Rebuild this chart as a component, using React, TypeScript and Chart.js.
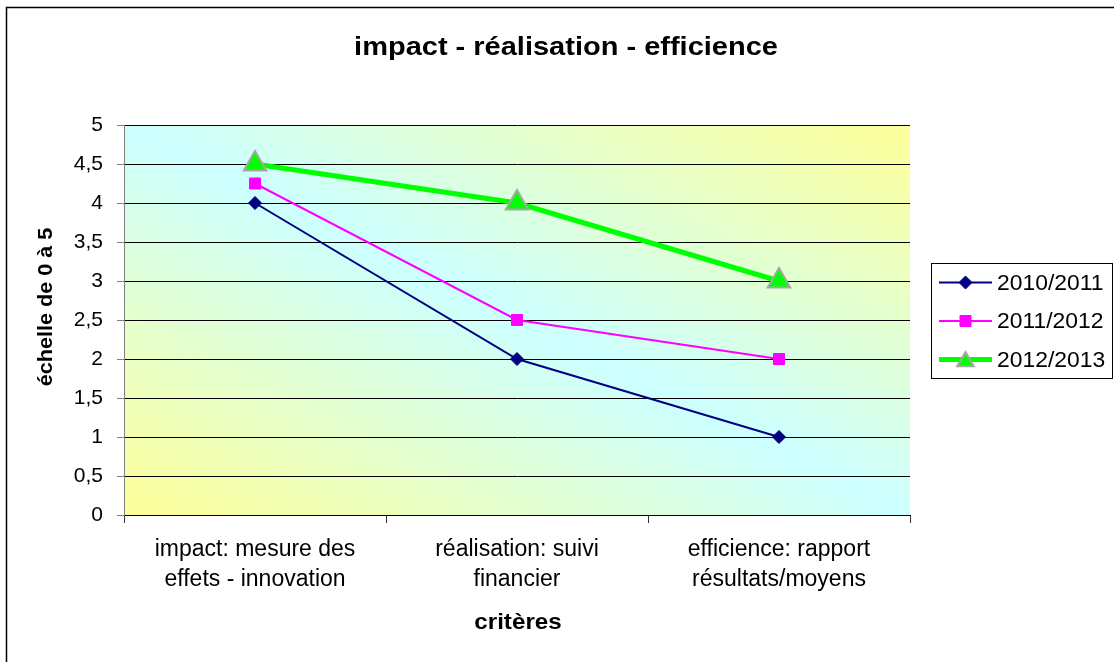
import React, { useEffect, useRef } from 'react';
import { Chart, registerables } from 'chart.js';

Chart.register(...registerables);

// ---- data ----
const categories: string[][] = [
  ['impact: mesure des', 'effets - innovation'],
  ['réalisation: suivi', 'financier'],
  ['efficience: rapport', 'résultats/moyens'],
];
const seriesNames = ['2010/2011', '2011/2012', '2012/2013'];
const values2010 = [4, 2, 1];
const values2011 = [4.25, 2.5, 2];
const values2012 = [4.5, 4, 3];
const yMin = 0;
const yMax = 5;
const yStep = 0.5;
const chartTitle = 'impact - réalisation - efficience';
const yAxisTitle = 'échelle de 0 à 5';
const xAxisTitle = 'critères';

const FONT = '"Liberation Sans", Arial, Helvetica, sans-serif';
const W = 1114;
const H = 662;

function stretchedText(
  ctx: CanvasRenderingContext2D,
  text: string,
  x: number,
  y: number,
  font: string,
  sx: number,
  rotate = 0
) {
  ctx.save();
  ctx.translate(x, y);
  if (rotate) ctx.rotate(rotate);
  ctx.scale(sx, 1);
  ctx.font = font;
  ctx.fillStyle = '#000';
  ctx.textAlign = 'center';
  ctx.textBaseline = 'middle';
  ctx.fillText(text, 0, 0);
  ctx.restore();
}

function drawMarker(ctx: CanvasRenderingContext2D, style: string, x: number, y: number, r: number, fill: string, stroke: string, bw: number) {
  ctx.save();
  ctx.beginPath();
  if (style === 'rectRot') {
    ctx.moveTo(x, y - r);
    ctx.lineTo(x + r, y);
    ctx.lineTo(x, y + r);
    ctx.lineTo(x - r, y);
    ctx.closePath();
  } else if (style === 'rect') {
    const s = Math.SQRT1_2 * r;
    ctx.rect(x - s, y - s, 2 * s, 2 * s);
  } else {
    ctx.moveTo(x, y - r);
    ctx.lineTo(x + r * Math.sin(Math.PI / 3), y + r * 0.5);
    ctx.lineTo(x - r * Math.sin(Math.PI / 3), y + r * 0.5);
    ctx.closePath();
  }
  ctx.fillStyle = fill;
  ctx.fill();
  ctx.lineWidth = bw;
  ctx.strokeStyle = stroke;
  ctx.stroke();
  ctx.restore();
}

const decorPlugin = {
  id: 'decor',
  beforeDraw(chart: any) {
    const ctx: CanvasRenderingContext2D = chart.ctx;
    const a = chart.chartArea;
    ctx.save();
    ctx.fillStyle = '#fff';
    ctx.fillRect(0, 0, chart.width, chart.height);
    // outer frame (right/bottom edges are off the picture)
    ctx.strokeStyle = '#000';
    ctx.lineWidth = 1.5;
    ctx.strokeRect(6.5, 7.5, chart.width + 20, chart.height + 20);
    // diagonal gradient: yellow corners BL / TR, cyan along TL-BR diagonal
    const cx = (a.left + a.right) / 2;
    const cy = (a.top + a.bottom) / 2;
    const w = a.right - a.left;
    const h = a.bottom - a.top;
    const len = Math.hypot(h, w);
    const ux = h / len;
    const uy = -w / len;
    const k = Math.abs((-w / 2) * ux + (h / 2) * uy);
    const g = ctx.createLinearGradient(cx - k * ux, cy - k * uy, cx + k * ux, cy + k * uy);
    g.addColorStop(0, '#FFFF99');
    g.addColorStop(0.5, '#CCFFFF');
    g.addColorStop(1, '#FFFF99');
    ctx.fillStyle = g;
    ctx.fillRect(a.left, a.top, w, h);
    ctx.restore();
  },
  afterDraw(chart: any) {
    const ctx: CanvasRenderingContext2D = chart.ctx;
    const a = chart.chartArea;
    const cx = (a.left + a.right) / 2;
    const cy = (a.top + a.bottom) / 2;
    // title
    stretchedText(ctx, chartTitle, 566, 48, `bold 25px ${FONT}`, 1.16);
    // axis titles
    stretchedText(ctx, xAxisTitle, cx + 1, 623, `bold 22px ${FONT}`, 1.1);
    stretchedText(ctx, yAxisTitle, 46, cy - 13, `bold 21px ${FONT}`, 1.03, -Math.PI / 2);

    // legend
    const boxL = a.right + 21;
    const boxW = 181;
    const boxH = 115;
    const boxT = cy - boxH / 2;
    ctx.save();
    ctx.fillStyle = '#fff';
    ctx.fillRect(boxL, boxT, boxW, boxH);
    ctx.strokeStyle = '#000';
    ctx.lineWidth = 1;
    ctx.strokeRect(Math.round(boxL) + 0.5, Math.round(boxT) + 0.5, boxW, boxH);
    const rowGap = 38.5;
    chart.data.datasets.forEach((ds: any, i: number) => {
      const y = boxT + 20 + i * rowGap;
      const x1 = boxL + 8;
      const x2 = boxL + 61;
      ctx.beginPath();
      ctx.strokeStyle = ds.borderColor;
      ctx.lineWidth = ds.borderWidth;
      ctx.moveTo(x1, y);
      ctx.lineTo(x2, y);
      ctx.stroke();
      const mr = ds.pointStyle === 'triangle' ? 9.5 : ds.pointRadius;
      drawMarker(ctx, ds.pointStyle, (x1 + x2) / 2, y + (ds.pointStyle === 'triangle' ? 2 : 0), mr, ds.pointBackgroundColor, ds.pointBorderColor, ds.pointBorderWidth);
      ctx.save();
      ctx.translate(boxL + 66, y + 1);
      ctx.scale(1.04, 1);
      ctx.font = `22px ${FONT}`;
      ctx.fillStyle = '#000';
      ctx.textAlign = 'left';
      ctx.textBaseline = 'middle';
      ctx.fillText(ds.label, 0, 0);
      ctx.restore();
    });
    ctx.restore();
  },
};

export default function App() {
  const ref = useRef<HTMLCanvasElement | null>(null);
  useEffect(() => {
    if (!ref.current) return;
    const chart = new Chart(ref.current, {
      type: 'line',
      data: {
        labels: categories,
        datasets: [
          {
            label: seriesNames[0],
            data: values2010,
            borderColor: '#000080',
            borderWidth: 2,
            pointStyle: 'rectRot',
            pointRadius: 6.5,
            pointBackgroundColor: '#000080',
            pointBorderColor: '#000080',
            pointBorderWidth: 1,
            fill: false,
            tension: 0,
          },
          {
            label: seriesNames[1],
            data: values2011,
            borderColor: '#FF00FF',
            borderWidth: 2,
            pointStyle: 'rect',
            pointRadius: 7.8,
            pointBackgroundColor: '#FF00FF',
            pointBorderColor: '#FF00FF',
            pointBorderWidth: 1,
            fill: false,
            tension: 0,
          },
          {
            label: seriesNames[2],
            data: values2012,
            borderColor: '#00FF00',
            borderWidth: 5,
            pointStyle: 'triangle',
            pointRadius: 13,
            pointBackgroundColor: '#00FF00',
            pointBorderColor: '#A6A6A6',
            pointBorderWidth: 2,
            fill: false,
            tension: 0,
          },
        ] as any,
      },
      options: {
        responsive: false,
        animation: false,
        devicePixelRatio: 1,
        layout: { padding: { left: 0, top: 125, right: W - 910, bottom: 0 } },
        plugins: {
          legend: { display: false },
          title: { display: false },
          tooltip: { enabled: false },
        },
        scales: {
          x: {
            type: 'category',
            offset: true,
            grid: {
              offset: true,
              drawOnChartArea: false,
              drawTicks: true,
              tickLength: 8,
              tickColor: '#333',
              lineWidth: 1,
            },
            border: { display: true, color: '#000', width: 1 },
            ticks: {
              color: '#000',
              font: { family: FONT, size: 23, lineHeight: 1.3 },
              padding: 12,
              maxRotation: 0,
              minRotation: 0,
              autoSkip: false,
            },
            afterFit: (s: any) => {
              s.height = H - 515;
            },
          },
          y: {
            min: yMin,
            max: yMax,
            grid: {
              color: '#000',
              lineWidth: 1,
              drawTicks: true,
              tickLength: 7,
              tickColor: '#808080',
            },
            border: { display: true, color: '#808080', width: 1 },
            ticks: {
              stepSize: yStep,
              color: '#000',
              font: { family: FONT, size: 21 },
              padding: 14,
              callback: (v: any) => String(v).replace('.', ','),
            },
            afterFit: (s: any) => {
              s.width = 124;
            },
          },
        },
      },
      plugins: [decorPlugin],
    });
    return () => chart.destroy();
  }, []);
  return (
    <div style={{ position: 'fixed', left: 0, top: 0, width: W, height: H, background: '#fff' }}>
      <canvas ref={ref} width={W} height={H} style={{ display: 'block', width: W, height: H }} />
    </div>
  );
}
